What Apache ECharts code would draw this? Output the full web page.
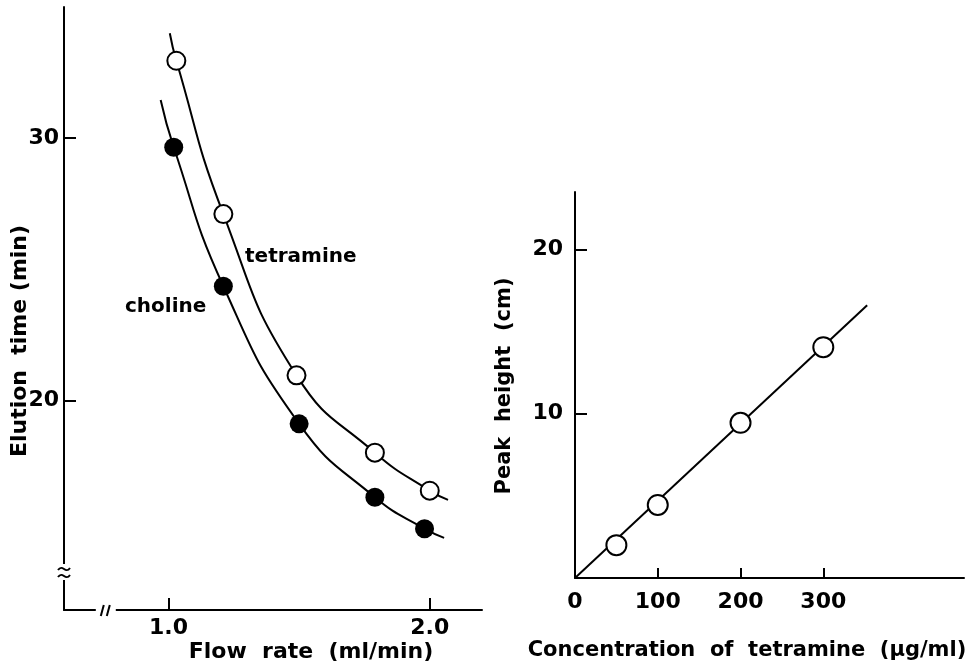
<!DOCTYPE html>
<html>
<head>
<meta charset="utf-8">
<script src="https://cdn.jsdelivr.net/npm/echarts@6/dist/echarts.min.js"></script>
<style>
  html, body { margin: 0; background: #fff; }
  #chart { width: 972px; height: 667px; }
</style>
</head>
<body>
<div id="chart"></div>
<script>
// left panel: elution time (min) vs flow rate (ml/min)
const tetramineFlow = [1.03, 1.21, 1.49, 1.79, 2.0]
const tetramineTime = [32.95, 27.1, 20.95, 18.0, 16.55]
const cholineFlow = [1.02, 1.21, 1.5, 1.79, 1.98]
const cholineTime = [29.65, 24.35, 19.1, 16.3, 15.1]
// where the hand-drawn curves start and stop past the points
const tetramineCurveEnds = [[1.005, 34.0], [2.07, 16.2]]
const cholineCurveEnds = [[0.97, 31.45], [2.055, 14.75]]
const flowTicks = [1.0, 2.0]
const timeTicks = [20, 30]

// right panel: peak height (cm) vs concentration of tetramine (ug/ml)
const concentration = [50, 100, 200, 300]
const peakHeight = [2.0, 4.45, 9.45, 14.05]
const fitLine = [[0, 0], [353, 16.6]]
const concTicks = [0, 100, 200, 300]
const peakTicks = [10, 20]

const FONT = 'DejaVu Sans'
const pairs = (xs, ys) => xs.map((x, i) => [x, ys[i]])
const curve = (xs, ys, ends) => [ends[0], ...pairs(xs, ys), ends[1]]

const chart = echarts.init(document.getElementById('chart'))

const axisLine = { lineStyle: { color: '#000', width: 2 } }
const tickLine = { color: '#000', width: 2 }
const labelStyle = { color: '#000', fontFamily: FONT, fontWeight: 'bold', fontSize: 22 }

chart.setOption({
  animation: false,
  grid: [
    { left: 64, top: 7, width: 418, height: 603 },
    { left: 575, top: 192, width: 389, height: 386 }
  ],
  xAxis: [
    {
      gridIndex: 0, type: 'value', min: 0.6, max: 2.2,
      splitLine: { show: false }, axisLine,
      axisTick: { inside: true, length: 12, customValues: flowTicks, lineStyle: tickLine },
      axisLabel: { ...labelStyle, margin: 7, customValues: flowTicks, formatter: v => v.toFixed(1) }
    },
    {
      gridIndex: 1, type: 'value', min: 0, max: 470,
      splitLine: { show: false }, axisLine,
      axisTick: { inside: true, length: 10, customValues: [100, 200, 300], lineStyle: tickLine },
      axisLabel: { ...labelStyle, margin: 13, customValues: concTicks }
    }
  ],
  yAxis: [
    {
      gridIndex: 0, type: 'value', min: 12, max: 35,
      splitLine: { show: false }, axisLine,
      axisTick: { inside: true, length: 12, customValues: timeTicks, lineStyle: tickLine },
      axisLabel: { ...labelStyle, margin: 5, customValues: timeTicks }
    },
    {
      gridIndex: 1, type: 'value', min: 0, max: 23.5,
      splitLine: { show: false }, axisLine,
      axisTick: { inside: true, length: 12, customValues: peakTicks, lineStyle: tickLine },
      axisLabel: { ...labelStyle, margin: 12, customValues: peakTicks }
    }
  ],
  series: [
    {
      type: 'line', xAxisIndex: 0, yAxisIndex: 0, smooth: 0.5, symbol: 'none', z: 1,
      data: curve(tetramineFlow, tetramineTime, tetramineCurveEnds),
      lineStyle: { color: '#000', width: 2 }
    },
    {
      type: 'line', xAxisIndex: 0, yAxisIndex: 0, smooth: 0.5, symbol: 'none', z: 1,
      data: curve(cholineFlow, cholineTime, cholineCurveEnds),
      lineStyle: { color: '#000', width: 2 }
    },
    {
      type: 'scatter', xAxisIndex: 0, yAxisIndex: 0, symbolSize: 18, z: 3,
      data: pairs(tetramineFlow, tetramineTime),
      itemStyle: { color: '#fff', borderColor: '#000', borderWidth: 2, opacity: 1 }
    },
    {
      type: 'scatter', xAxisIndex: 0, yAxisIndex: 0, symbolSize: 19, z: 3,
      data: pairs(cholineFlow, cholineTime),
      itemStyle: { color: '#000', opacity: 1 }
    },
    {
      type: 'line', xAxisIndex: 1, yAxisIndex: 1, symbol: 'none', z: 1,
      data: fitLine,
      lineStyle: { color: '#000', width: 2 }
    },
    {
      type: 'scatter', xAxisIndex: 1, yAxisIndex: 1, symbolSize: 20, z: 3,
      data: pairs(concentration, peakHeight),
      itemStyle: { color: '#fff', borderColor: '#000', borderWidth: 2, opacity: 1 }
    }
  ]
})

// axis names, curve labels and the axis-break marks
const txt = (x, y, text, size, extra) => ({
  type: 'text', x, y,
  style: { text, fill: '#000', font: `bold ${size}px "${FONT}"`, align: 'center', verticalAlign: 'middle', ...extra }
})
const wave = (x, y) => ({
  type: 'bezierCurve', z: 11,
  shape: { x1: x - 6, y1: y + 1, x2: x + 6, y2: y - 1, cpx1: x - 1, cpy1: y - 6, cpx2: x + 1, cpy2: y + 6 },
  style: { stroke: '#000', lineWidth: 2, fill: null }
})
const yBreak = chart.convertToPixel({ gridIndex: 0 }, [0.6, 13.45])
const xBreak = chart.convertToPixel({ gridIndex: 0 }, [0.76, 12])

chart.setOption({
  graphic: [
    txt(311, 652, 'Flow  rate  (ml/min)', 22),
    txt(747, 651, 'Concentration  of  tetramine  (μg/ml)', 21),
    { ...txt(20, 341, 'Elution  time (min)', 22), rotation: Math.PI / 2 },
    { ...txt(505, 386, 'Peak  height  (cm)', 21), rotation: Math.PI / 2 },
    txt(245, 257, 'tetramine', 20, { align: 'left' }),
    txt(125, 307, 'choline', 20, { align: 'left' }),
    { type: 'rect', shape: { x: yBreak[0] - 6, y: yBreak[1] - 8, width: 12, height: 16 }, style: { fill: '#fff' }, z: 10 },
    wave(yBreak[0], yBreak[1] - 3),
    wave(yBreak[0], yBreak[1] + 4),
    { type: 'rect', shape: { x: xBreak[0] - 10, y: xBreak[1] - 6, width: 20, height: 12 }, style: { fill: '#fff' }, z: 10 },
    { type: 'line', shape: { x1: xBreak[0] - 5, y1: xBreak[1] + 6, x2: xBreak[0] - 2, y2: xBreak[1] - 5 }, style: { stroke: '#000', lineWidth: 2 }, z: 11 },
    { type: 'line', shape: { x1: xBreak[0] + 1, y1: xBreak[1] + 6, x2: xBreak[0] + 4, y2: xBreak[1] - 5 }, style: { stroke: '#000', lineWidth: 2 }, z: 11 }
  ]
})
</script>
</body>
</html>
